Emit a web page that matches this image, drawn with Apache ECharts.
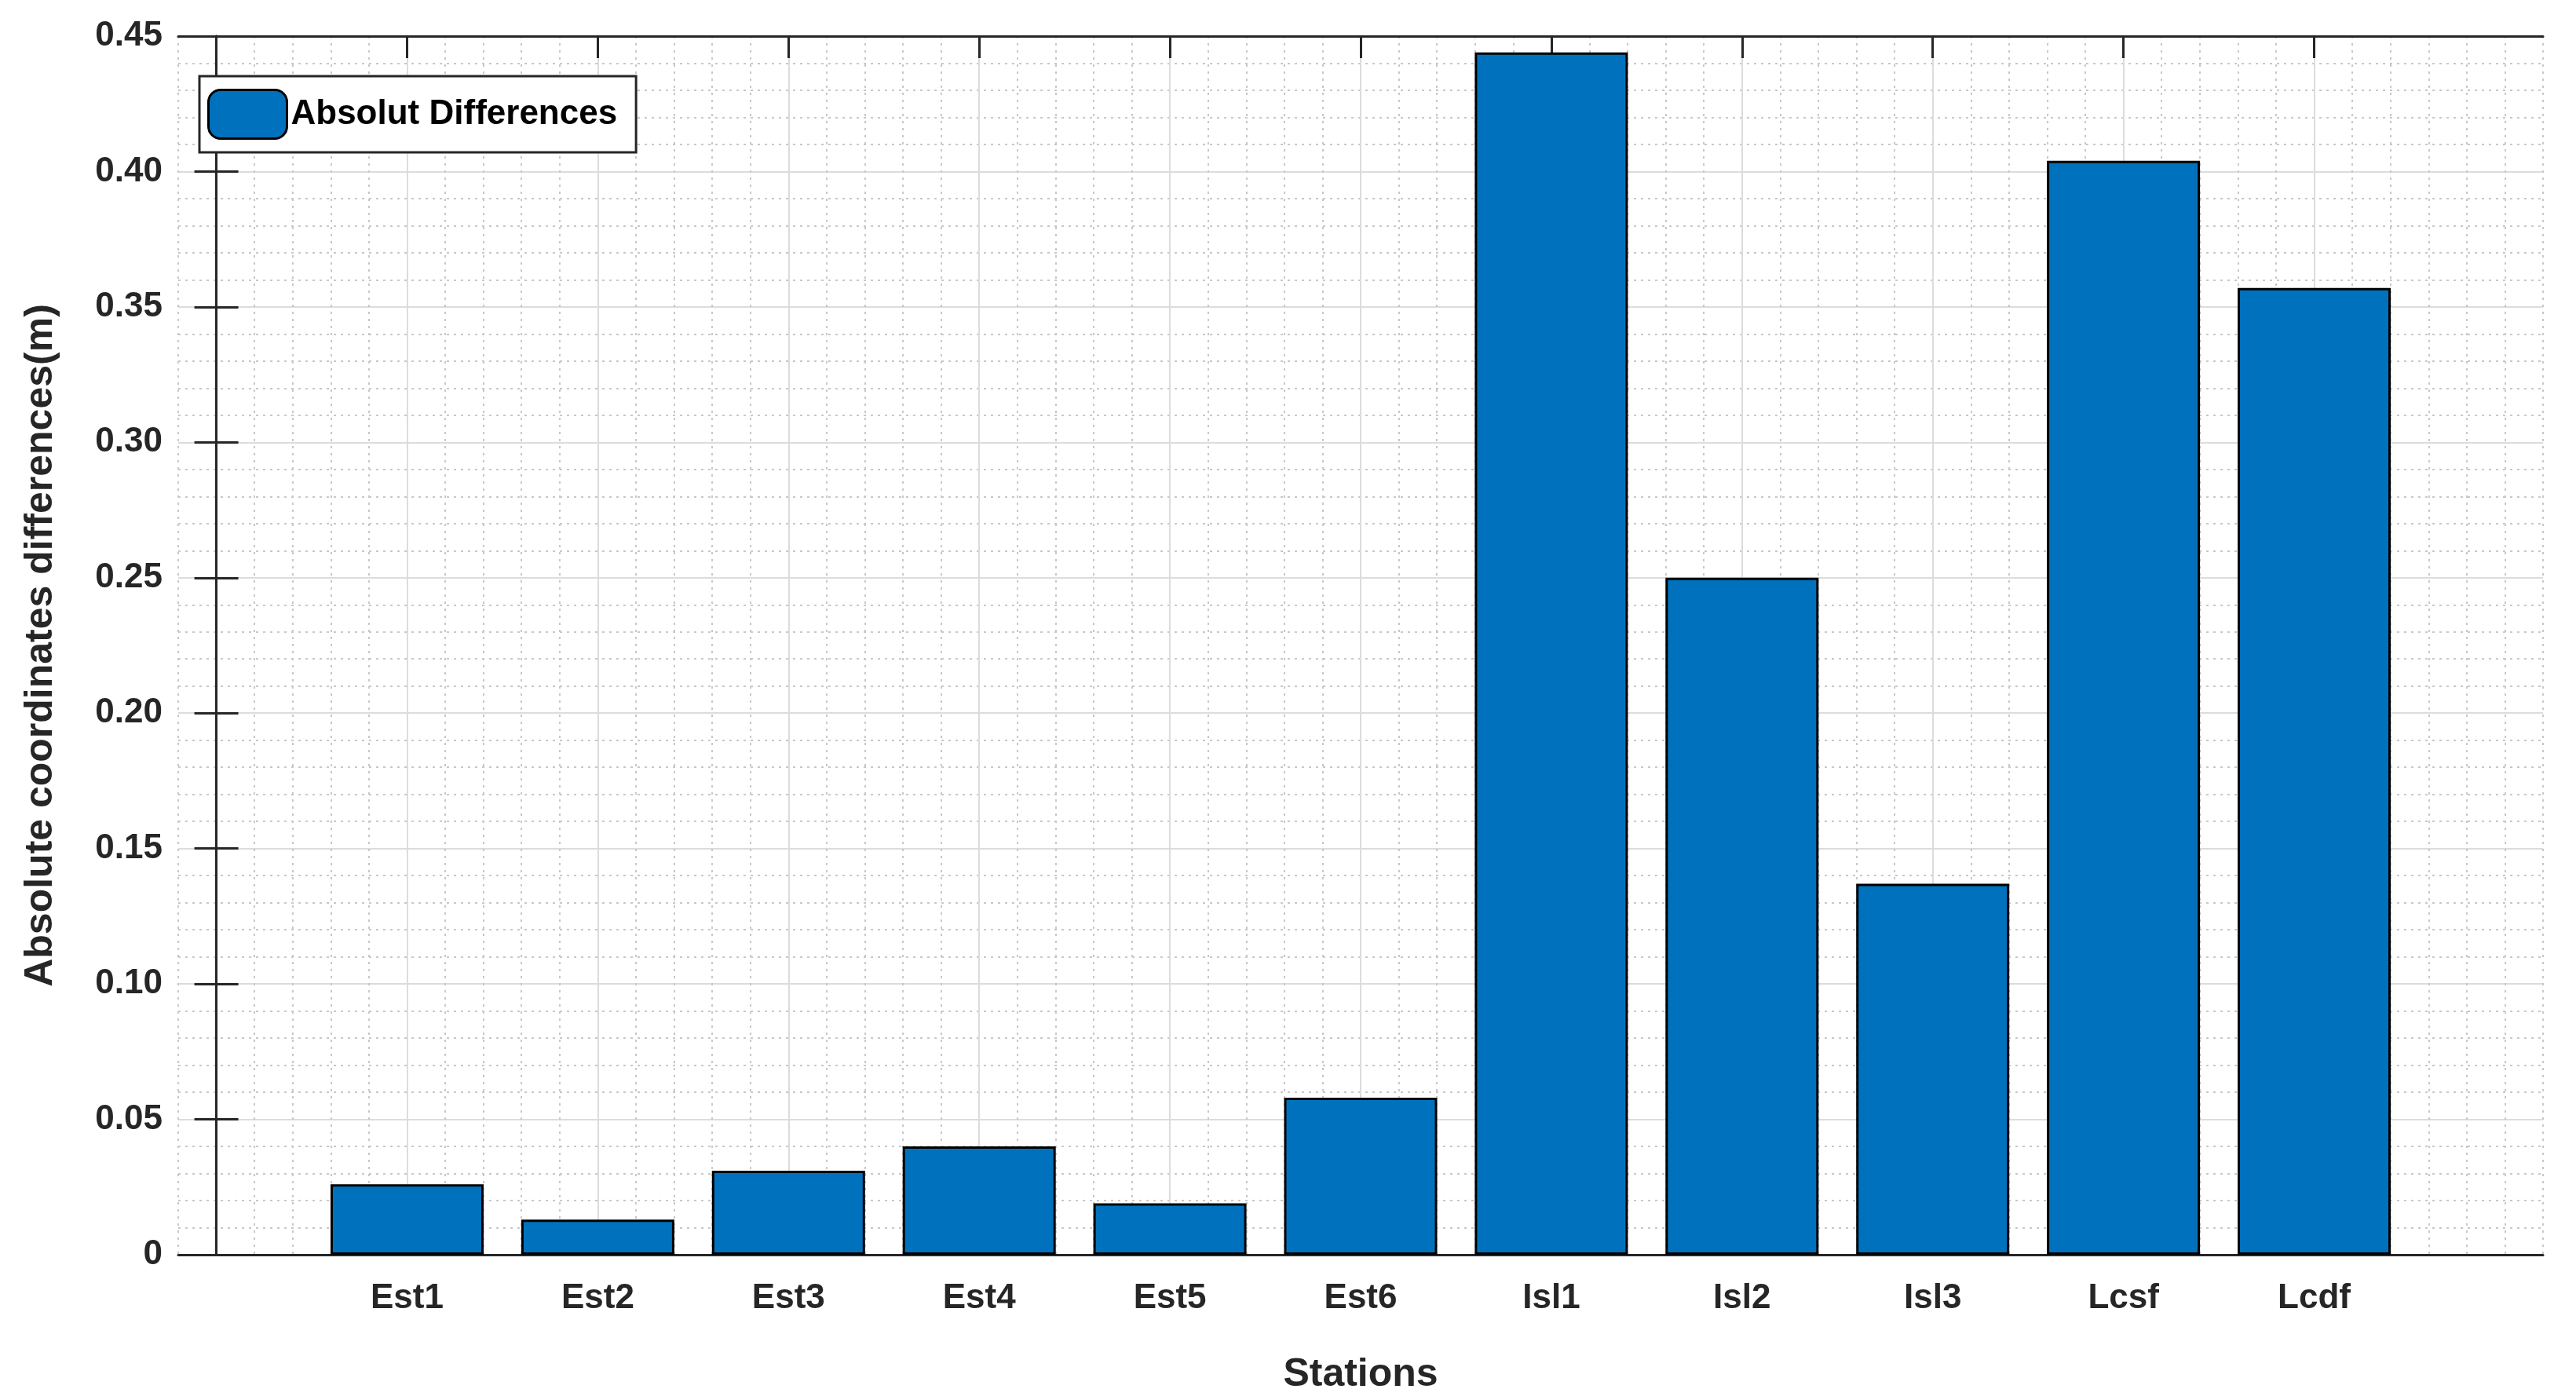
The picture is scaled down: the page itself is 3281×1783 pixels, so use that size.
<!DOCTYPE html>
<html>
<head>
<meta charset="utf-8">
<script src="https://cdn.jsdelivr.net/npm/echarts@6/dist/echarts.min.js"></script>
<style>html,body{margin:0;padding:0;background:#fff}#chart{width:3281px;height:1783px}</style>
</head>
<body>
<div id="chart"></div>
<script>
// stations and their absolute differences (m)
var stations = ['Est1', 'Est2', 'Est3', 'Est4', 'Est5', 'Est6', 'Isl1', 'Isl2', 'Isl3', 'Lcsf', 'Lcdf'];
var diffs = [0.026, 0.013, 0.031, 0.040, 0.019, 0.058, 0.444, 0.250, 0.137, 0.404, 0.357];
var stationPos = [1, 2, 3, 4, 5, 6, 7, 8, 9, 10, 11];

var font = 'Liberation Sans, Arial, sans-serif';
var chart = echarts.init(document.getElementById('chart'));
var lineStyle = {color: '#262626', width: 3};
var minorLine = {color: '#c8c8c8', width: 2, type: [3, 6]};

var barData = stations.map(function (s, i) { return [stationPos[i], diffs[i]]; });

var option = {
    animation: false,
    backgroundColor: '#fff',
    grid: {left: 227, right: 42, top: 46, bottom: 185, containLabel: false},
    legend: {
        left: 254, top: 97,
        padding: [16, 24, 16, 10],
        borderColor: '#262626', borderWidth: 3,
        backgroundColor: '#fff',
        itemWidth: 100, itemHeight: 62, itemGap: 8,
        textStyle: {fontFamily: font, fontWeight: 'bold', fontSize: 44, color: '#000'},
        data: [{name: 'Absolut Differences', itemStyle: {color: '#0072BD', borderColor: '#000', borderWidth: 3}}]
    },
    xAxis: [{
        type: 'value', min: -0.2, max: 12.2, interval: 0.2,
        axisLine: {show: false}, axisTick: {show: false}, axisLabel: {show: false},
        splitLine: {show: true, lineStyle: minorLine}
    }, {
        type: 'value', min: -0.2, max: 12.2, position: 'bottom',
        name: 'Stations', nameLocation: 'middle', nameGap: 128,
        nameTextStyle: {fontFamily: font, fontWeight: 'bold', fontSize: 50, color: '#262626'},
        axisLine: {show: true, onZero: false, lineStyle: lineStyle},
        axisTick: {show: true, inside: true, length: 28, lineStyle: lineStyle, customValues: stationPos},
        axisLabel: {
            show: true, margin: 34, fontFamily: font, fontWeight: 'bold', fontSize: 44, color: '#262626',
            customValues: stationPos,
            formatter: function (v) { return stations[Math.round(v) - 1] || ''; }
        },
        splitLine: {show: true, lineStyle: {color: '#dcdcdc', width: 2}}
    }, {
        type: 'value', min: -0.2, max: 12.2, position: 'top',
        axisLine: {show: true, onZero: false, lineStyle: lineStyle},
        axisTick: {show: true, inside: true, length: 28, lineStyle: lineStyle, customValues: stationPos},
        axisLabel: {show: false}, splitLine: {show: false}
    }],
    yAxis: [{
        type: 'value', min: 0, max: 0.45, interval: 0.05,
        name: 'Absolute coordinates differences(m)', nameLocation: 'middle', nameGap: 150,
        nameTextStyle: {fontFamily: font, fontWeight: 'bold', fontSize: 50, color: '#262626'},
        axisLine: {show: true, lineStyle: lineStyle},
        axisTick: {show: true, inside: true, length: 28, lineStyle: lineStyle},
        axisLabel: {
            fontFamily: font, fontWeight: 'bold', fontSize: 44, color: '#262626', margin: 20,
            formatter: function (v) { return v === 0 ? '0' : v.toFixed(2); }
        },
        splitLine: {show: true, lineStyle: {color: '#dcdcdc', width: 2}},
        minorTick: {show: true, splitNumber: 5, length: 0},
        minorSplitLine: {show: true, lineStyle: minorLine}
    }, {
        type: 'value', min: 0, max: 0.45, interval: 0.05, position: 'right',
        axisLine: {show: true, lineStyle: lineStyle},
        axisTick: {show: true, inside: true, length: 28, lineStyle: lineStyle},
        axisLabel: {show: false}, splitLine: {show: false}
    }],
    series: [{
        name: 'Absolut Differences',
        type: 'bar', xAxisIndex: 1, yAxisIndex: 0,
        barWidth: 195,
        itemStyle: {color: '#0072BD', borderColor: '#000', borderWidth: 3},
        data: barData
    }]
};
chart.setOption(option);
</script>
</body>
</html>
